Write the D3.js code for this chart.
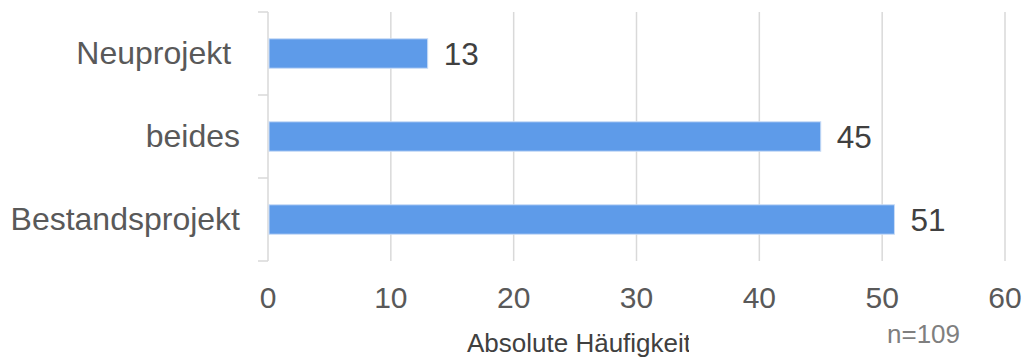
<!DOCTYPE html>
<html><head><meta charset="utf-8">
<script src="https://cdn.jsdelivr.net/npm/d3@7"></script>
<style>body{margin:0;background:#fff;}svg{display:block;font-family:Arial,"Liberation Sans",sans-serif;}</style>
</head><body>
<svg id="c" width="1025" height="360"></svg>
<script>
const categories = ["Neuprojekt\u00a0", "beides", "Bestandsprojekt"];
const values = [13, 45, 51];
const xTicks = [0, 10, 20, 30, 40, 50, 60];
const xTitle = "Absolute Häufigkeit";
const note = "n=109";

const svg = d3.select("#c");
const x = d3.scaleLinear().domain([0, 60]).range([268, 1005]);
const y = d3.scaleBand().domain(categories).range([12, 261]).paddingInner(0.645).paddingOuter(0.3225);

// gridlines
svg.append("g").selectAll("line").data(xTicks.filter(d => d > 0)).join("line")
  .attr("x1", d => x(d)).attr("x2", d => x(d)).attr("y1", 12).attr("y2", 261)
  .attr("stroke", "#d9d9d9").attr("stroke-width", 1.5);

// y axis line + ticks
const yEdges = [12].concat(categories.map(c => y(c) + y.bandwidth() + y.step() * y.paddingInner() / 2));
svg.append("line").attr("x1", 268).attr("x2", 268).attr("y1", 12).attr("y2", 261)
  .attr("stroke", "#d9d9d9").attr("stroke-width", 1.5);
svg.append("g").selectAll("line").data(yEdges).join("line")
  .attr("x1", 258).attr("x2", 268).attr("y1", d => d).attr("y2", d => d)
  .attr("stroke", "#d9d9d9").attr("stroke-width", 1.5);

// bars
svg.append("g").selectAll("rect").data(values).join("rect")
  .attr("x", x(0) + 1).attr("y", (d, i) => y(categories[i]))
  .attr("width", d => x(d) - x(0) - 1).attr("height", y.bandwidth())
  .attr("fill", "#5e9be9").attr("stroke", "#c9dcf6").attr("stroke-width", 1);

// value labels
svg.append("g").selectAll("text").data(values).join("text")
  .attr("x", d => x(d) + 16).attr("y", (d, i) => y(categories[i]) + y.bandwidth() / 2)
  .attr("dy", "0.36em").attr("font-size", 31.5).attr("fill", "#404040").text(d => d);

// category labels
svg.append("g").selectAll("text").data(categories).join("text")
  .attr("x", 240).attr("y", d => y(d) + y.bandwidth() / 2)
  .attr("dy", "0.34em").attr("text-anchor", "end").attr("font-size", 32).attr("fill", "#595959")
  .style("white-space", "pre").text(d => d);

// x tick labels
svg.append("g").selectAll("text").data(xTicks).join("text")
  .attr("x", d => x(d)).attr("y", 308).attr("text-anchor", "middle")
  .attr("font-size", 30).attr("fill", "#595959").text(d => d);

// x title (clipped at right)
svg.append("clipPath").attr("id", "tc").append("rect").attr("x", 400).attr("y", 320).attr("width", 289).attr("height", 40);
svg.append("text").attr("x", 467).attr("y", 352).attr("font-size", 26).attr("fill", "#404040")
  .attr("clip-path", "url(#tc)").text(xTitle);

// note
svg.append("text").attr("x", 887).attr("y", 343).attr("font-size", 26).attr("fill", "#7f7f7f").text(note);
</script>
</body></html>
